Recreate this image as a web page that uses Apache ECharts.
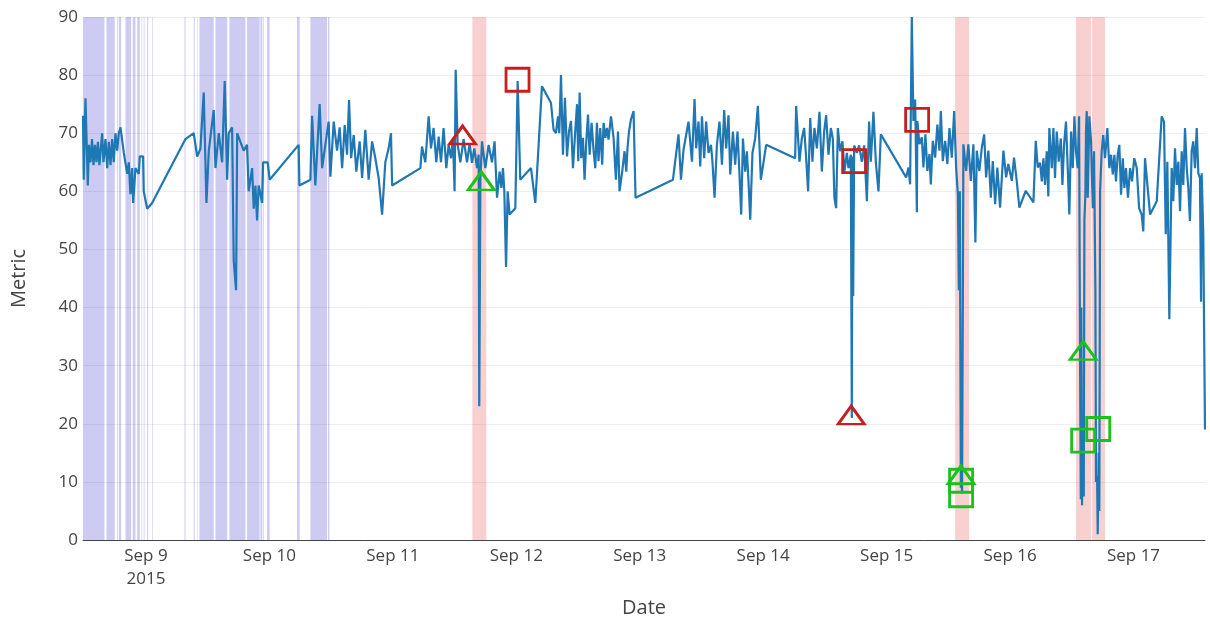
<!DOCTYPE html>
<html>
<head>
<meta charset="utf-8">
<script src="https://cdn.jsdelivr.net/npm/echarts@6/dist/echarts.min.js"></script>
<style>
  html, body { margin: 0; padding: 0; background: #fff; }
  #chart { width: 1210px; height: 620px; }
</style>
</head>
<body>
<div id="chart"></div>
<script>
// x = day of September 2015 (fractional), y = metric
const metricPoints = [
  [8.490, 73], [8.496, 62], [8.510, 76], [8.529, 61], [8.538, 68], [8.551, 65], [8.563, 69], [8.575, 64.5],
  [8.587, 68], [8.599, 65], [8.611, 68.5], [8.623, 64.5], [8.645, 70], [8.656, 65], [8.672, 69], [8.686, 64],
  [8.699, 68.5], [8.713, 64.5], [8.726, 69], [8.739, 65], [8.753, 70], [8.767, 67], [8.780, 70], [8.794, 71],
  [8.820, 66.7], [8.848, 63], [8.861, 65], [8.874, 59.5], [8.888, 64], [8.896, 58], [8.915, 64], [8.942, 63],
  [8.950, 66], [8.977, 66], [8.982, 60], [9.010, 57], [9.050, 58], [9.320, 69], [9.387, 70], [9.415, 66],
  [9.441, 67.3], [9.468, 77], [9.490, 58], [9.509, 67], [9.549, 74], [9.563, 64], [9.590, 70], [9.617, 65],
  [9.638, 79], [9.658, 62], [9.670, 70], [9.698, 71], [9.711, 48], [9.730, 43], [9.739, 70], [9.765, 68.5],
  [9.792, 67], [9.819, 68], [9.832, 60], [9.860, 64], [9.873, 57], [9.887, 61], [9.900, 55], [9.913, 61],
  [9.941, 58], [9.949, 65], [9.986, 65], [10.002, 62], [10.237, 68], [10.243, 61], [10.332, 62], [10.346, 73],
  [10.372, 61], [10.407, 75], [10.427, 64], [10.453, 68], [10.480, 72], [10.494, 62.5], [10.521, 72], [10.548, 67],
  [10.569, 71], [10.589, 64], [10.610, 71.4], [10.629, 66.3], [10.645, 75.7], [10.662, 65.7], [10.683, 69.7], [10.704, 63.4],
  [10.731, 68.6], [10.751, 62.3], [10.777, 70.6], [10.804, 62], [10.832, 68.6], [10.858, 65.7], [10.885, 62.3], [10.913, 56],
  [10.939, 65], [10.966, 67.4], [10.985, 70], [10.994, 61], [11.223, 64], [11.236, 67.7], [11.263, 65], [11.290, 72.9],
  [11.309, 67.4], [11.330, 70.9], [11.352, 65], [11.371, 69.4], [11.390, 65], [11.411, 70.9], [11.433, 64], [11.452, 68],
  [11.471, 65.7], [11.487, 69.1], [11.500, 60], [11.509, 80.9], [11.525, 68], [11.547, 65], [11.573, 69], [11.601, 65],
  [11.622, 68.3], [11.641, 64.9], [11.660, 67.4], [11.682, 64], [11.695, 66.3], [11.700, 23], [11.709, 62], [11.722, 68.6],
  [11.749, 64], [11.776, 68], [11.803, 65], [11.824, 68.6], [11.844, 58.9], [11.865, 63.4], [11.879, 60.6], [11.892, 64],
  [11.903, 60], [11.917, 47], [11.930, 60], [11.946, 56], [11.992, 57.1], [12.011, 79], [12.032, 62], [12.119, 64],
  [12.154, 58], [12.208, 78.1], [12.281, 75.2], [12.302, 70.6], [12.321, 70], [12.338, 72.9], [12.348, 70], [12.362, 80],
  [12.378, 66.3], [12.394, 76.1], [12.411, 66], [12.427, 70.3], [12.443, 72.1], [12.459, 64], [12.475, 69.5], [12.492, 75],
  [12.502, 65.2], [12.513, 77], [12.526, 65.7], [12.540, 69.2], [12.553, 62], [12.567, 68.6], [12.581, 73.2], [12.594, 66.3],
  [12.610, 71.8], [12.626, 67], [12.640, 64], [12.653, 71.8], [12.666, 65.2], [12.680, 70.9], [12.696, 64.6], [12.707, 71.8],
  [12.721, 69.2], [12.734, 70.9], [12.747, 68.9], [12.767, 72.9], [12.788, 69.2], [12.807, 62], [12.824, 70.3], [12.836, 60],
  [12.858, 63.4], [12.877, 66.9], [12.891, 63.4], [12.901, 67.5], [12.913, 70.3], [12.929, 72.4], [12.950, 73.8], [12.966, 58.9],
  [13.269, 62], [13.314, 69.8], [13.334, 62], [13.355, 67.2], [13.395, 72], [13.423, 65.1], [13.444, 75.9], [13.457, 67.4],
  [13.476, 72], [13.490, 64.3], [13.504, 72.9], [13.522, 65.7], [13.538, 72], [13.557, 66.6], [13.577, 68], [13.589, 65.1],
  [13.606, 58.9], [13.625, 68], [13.646, 72], [13.666, 64.6], [13.684, 74], [13.700, 67.4], [13.719, 73.1], [13.733, 62.9],
  [13.755, 70.3], [13.773, 64.6], [13.792, 70.3], [13.808, 62.9], [13.822, 56], [13.836, 69.1], [13.854, 63.4], [13.868, 66.9],
  [13.881, 61.7], [13.895, 55.1], [13.913, 66.6], [13.935, 69.1], [13.957, 74.7], [13.981, 62], [14.024, 68], [14.259, 65.7],
  [14.267, 74.7], [14.294, 65.1], [14.313, 69.1], [14.332, 70.9], [14.348, 65.7], [14.364, 60], [14.381, 72.6], [14.399, 65.1],
  [14.415, 70.9], [14.435, 67.4], [14.456, 73.7], [14.475, 63.4], [14.494, 70.3], [14.510, 73.1], [14.529, 66.3], [14.548, 70.9],
  [14.564, 69.1], [14.577, 58.9], [14.591, 57.1], [14.605, 70.9], [14.623, 66.9], [14.642, 68.6], [14.658, 63.4], [14.678, 66.6],
  [14.691, 64], [14.710, 66.3], [14.718, 21], [14.723, 66], [14.729, 42], [14.737, 67.9], [14.759, 66.6], [14.777, 67.9],
  [14.799, 65.1], [14.818, 67.9], [14.840, 58.3], [14.858, 72], [14.872, 65.1], [14.893, 73.7], [14.913, 64.9], [14.934, 60],
  [14.953, 69.8], [15.158, 62.4], [15.177, 64.1], [15.190, 61.2], [15.204, 90], [15.217, 72.1], [15.231, 75.8], [15.245, 56.4],
  [15.249, 72.1], [15.266, 68.1], [15.285, 69.3], [15.298, 64.1], [15.314, 69.8], [15.330, 63.5], [15.347, 66.4], [15.358, 61.2],
  [15.374, 68.7], [15.393, 65.8], [15.411, 71.5], [15.428, 67], [15.439, 73.8], [15.455, 65.2], [15.474, 68.7], [15.492, 64.7],
  [15.509, 70.9], [15.528, 65.8], [15.547, 73.8], [15.563, 64.1], [15.577, 59.5], [15.585, 43], [15.593, 60], [15.601, 9],
  [15.606, 12], [15.611, 8], [15.622, 68.1], [15.644, 63.5], [15.662, 68.1], [15.682, 61.8], [15.703, 68.1], [15.719, 51.2],
  [15.730, 67], [15.751, 63.5], [15.771, 67.5], [15.790, 69.8], [15.806, 62.4], [15.824, 67], [15.844, 58.9], [15.860, 65.2],
  [15.879, 57.8], [15.897, 64.1], [15.919, 57.2], [15.946, 67], [15.968, 62.4], [15.986, 64.7], [16.014, 61.8], [16.032, 65.8],
  [16.054, 61.8], [16.075, 57.2], [16.127, 60.1], [16.189, 58.1], [16.208, 68.7], [16.224, 64.1], [16.243, 64.9], [16.257, 61.7],
  [16.270, 65.7], [16.283, 61.1], [16.297, 66.9], [16.310, 59.1], [16.318, 70.9], [16.338, 64], [16.351, 70.9], [16.364, 62.3],
  [16.378, 70.3], [16.394, 65.1], [16.411, 69.1], [16.424, 61.1], [16.437, 68], [16.453, 72], [16.467, 64], [16.480, 56],
  [16.494, 70.3], [16.508, 64], [16.521, 72.9], [16.534, 66.9], [16.548, 64], [16.559, 72.9], [16.567, 30], [16.573, 7],
  [16.577, 40], [16.583, 6], [16.591, 20], [16.597, 7.5], [16.602, 55], [16.610, 59.4], [16.615, 70.3], [16.621, 73.8],
  [16.629, 58.9], [16.642, 72.9], [16.656, 68.6], [16.670, 57.1], [16.680, 66.9], [16.691, 43.4], [16.696, 10], [16.705, 11],
  [16.710, 1], [16.718, 15], [16.723, 5], [16.729, 60], [16.742, 66.9], [16.755, 69.7], [16.769, 65.7], [16.788, 70.9],
  [16.804, 64], [16.818, 66.3], [16.832, 62.9], [16.845, 66.3], [16.858, 61.7], [16.872, 66.3], [16.885, 68], [16.899, 59.4],
  [16.913, 65.7], [16.926, 60.6], [16.939, 64], [16.955, 58.9], [16.972, 64], [16.988, 61.7], [17.006, 65.7], [17.026, 64],
  [17.045, 57.1], [17.066, 56], [17.079, 53.1], [17.093, 65.7], [17.134, 56], [17.188, 58.3], [17.228, 72.9], [17.247, 72],
  [17.261, 52.6], [17.274, 65.1], [17.290, 38], [17.309, 64], [17.322, 58.3], [17.336, 67.4], [17.350, 61.1], [17.363, 65.1],
  [17.377, 56.6], [17.390, 66.9], [17.403, 61.1], [17.417, 70.9], [17.431, 64], [17.444, 60.6], [17.457, 54.9], [17.471, 66.9],
  [17.484, 68.6], [17.498, 64], [17.512, 70.9], [17.525, 63.1], [17.538, 62.3], [17.547, 41], [17.552, 63.1], [17.565, 52.6],
  [17.579, 19]
];

// flagged points
const redTriangles = [[11.565, 69.7], [14.713, 21.5]];
const redSquares = [[12.010, 79.2], [14.737, 65.2], [15.247, 72.3]];
const greenTriangles = [[11.716, 61.8], [15.603, 11.2], [16.592, 32.6]];
const greenSquares = [[15.603, 10.2], [15.603, 7.7], [16.592, 17.1], [16.714, 19.1]];

// shaded periods [start, end]
const purplePeriods = [
  [8.490, 8.664], [8.680, 8.747], [8.767, 8.773], [8.780, 8.799], [8.834, 8.880], [8.893, 8.915],
  [8.929, 8.950], [8.964, 8.969], [8.982, 8.988], [9.010, 9.018], [9.050, 9.055], [9.312, 9.320],
  [9.387, 9.395], [9.415, 9.419], [9.433, 9.549], [9.563, 9.658], [9.676, 9.806], [9.819, 9.921],
  [9.927, 9.941], [9.947, 9.954], [9.981, 10.002], [10.224, 10.245], [10.332, 10.467], [10.475, 10.486]
];
const pinkPeriods = [[11.644, 11.757], [15.555, 15.668], [16.534, 16.656], [16.664, 16.769]];

const tickDays = [9, 10, 11, 12, 13, 14, 15, 16, 17];
const tickLabels = ['Sep 9\n2015', 'Sep 10', 'Sep 11', 'Sep 12', 'Sep 13', 'Sep 14', 'Sep 15', 'Sep 16', 'Sep 17'];

const FONT = '"Open Sans", "Noto Sans", sans-serif';
const RED = '#c81e1e';
const GREEN = '#1cc11c';

const chart = echarts.init(document.getElementById('chart'));

const toAreas = (periods, color) =>
  periods.map(([a, b]) => [{ xAxis: a, itemStyle: { color: color } }, { xAxis: b }]);

// hollow marker overlay (scatter defaults to 0.8 opacity, so force 1)
const markerSeries = (data, symbol, size, color) => ({
  type: 'scatter',
  data: data,
  symbol: symbol,
  symbolSize: size,
  z: 5,
  silent: true,
  itemStyle: { color: 'rgba(0,0,0,0)', borderColor: color, borderWidth: 2.8, opacity: 1 }
})

chart.setOption({
  animation: false,
  textStyle: { fontFamily: FONT },
  // fixed plot box, don't let v6 shrink it to fit the axis names
  grid: { left: 83, right: 5, top: 17, bottom: 80, outerBoundsMode: 'none' },
  xAxis: {
    type: 'value',
    min: 8.49,
    max: 17.579,
    name: 'Date',
    nameLocation: 'middle',
    nameGap: 58,
    nameTextStyle: { color: '#444', fontSize: 20, fontFamily: FONT },
    axisLine: { show: true, lineStyle: { color: '#444', width: 1 } },
    axisTick: { show: false },
    splitLine: { show: false },
    axisLabel: {
      customValues: tickDays,
      color: '#444',
      fontSize: 17,
      fontFamily: FONT,
      lineHeight: 23,
      margin: 5,
      formatter: (v) => tickLabels[tickDays.indexOf(Math.round(v))] || ''
    }
  },
  yAxis: {
    type: 'value',
    min: 0,
    max: 90,
    interval: 10,
    name: 'Metric',
    nameLocation: 'middle',
    nameGap: 54,
    nameTextStyle: { color: '#444', fontSize: 20, fontFamily: FONT },
    axisLine: { show: false },
    axisTick: { show: false },
    splitLine: { lineStyle: { color: '#eeeeee', width: 1 } },
    axisLabel: { color: '#444', fontSize: 17, fontFamily: FONT, margin: 5 }
  },
  series: [
    {
      // shaded periods
      type: 'line',
      data: [],
      z: 1,
      silent: true,
      markArea: {
        silent: true,
        label: { show: false },
        emphasis: { disabled: true },
        data: toAreas(purplePeriods, 'rgba(30,20,200,0.22)').concat(toAreas(pinkPeriods, 'rgba(225,40,40,0.22)'))
      }
    },
    {
      type: 'line',
      data: metricPoints,
      z: 3,
      showSymbol: false,
      silent: true,
      lineStyle: { color: '#1f77b4', width: 2.2 }
    },
    markerSeries(redTriangles, 'triangle', [26, 18], RED),
    markerSeries(redSquares, 'rect', [23, 23], RED),
    markerSeries(greenTriangles, 'triangle', [26, 18], GREEN),
    markerSeries(greenSquares, 'rect', [23, 23], GREEN)
  ]
})
</script>
</body>
</html>
